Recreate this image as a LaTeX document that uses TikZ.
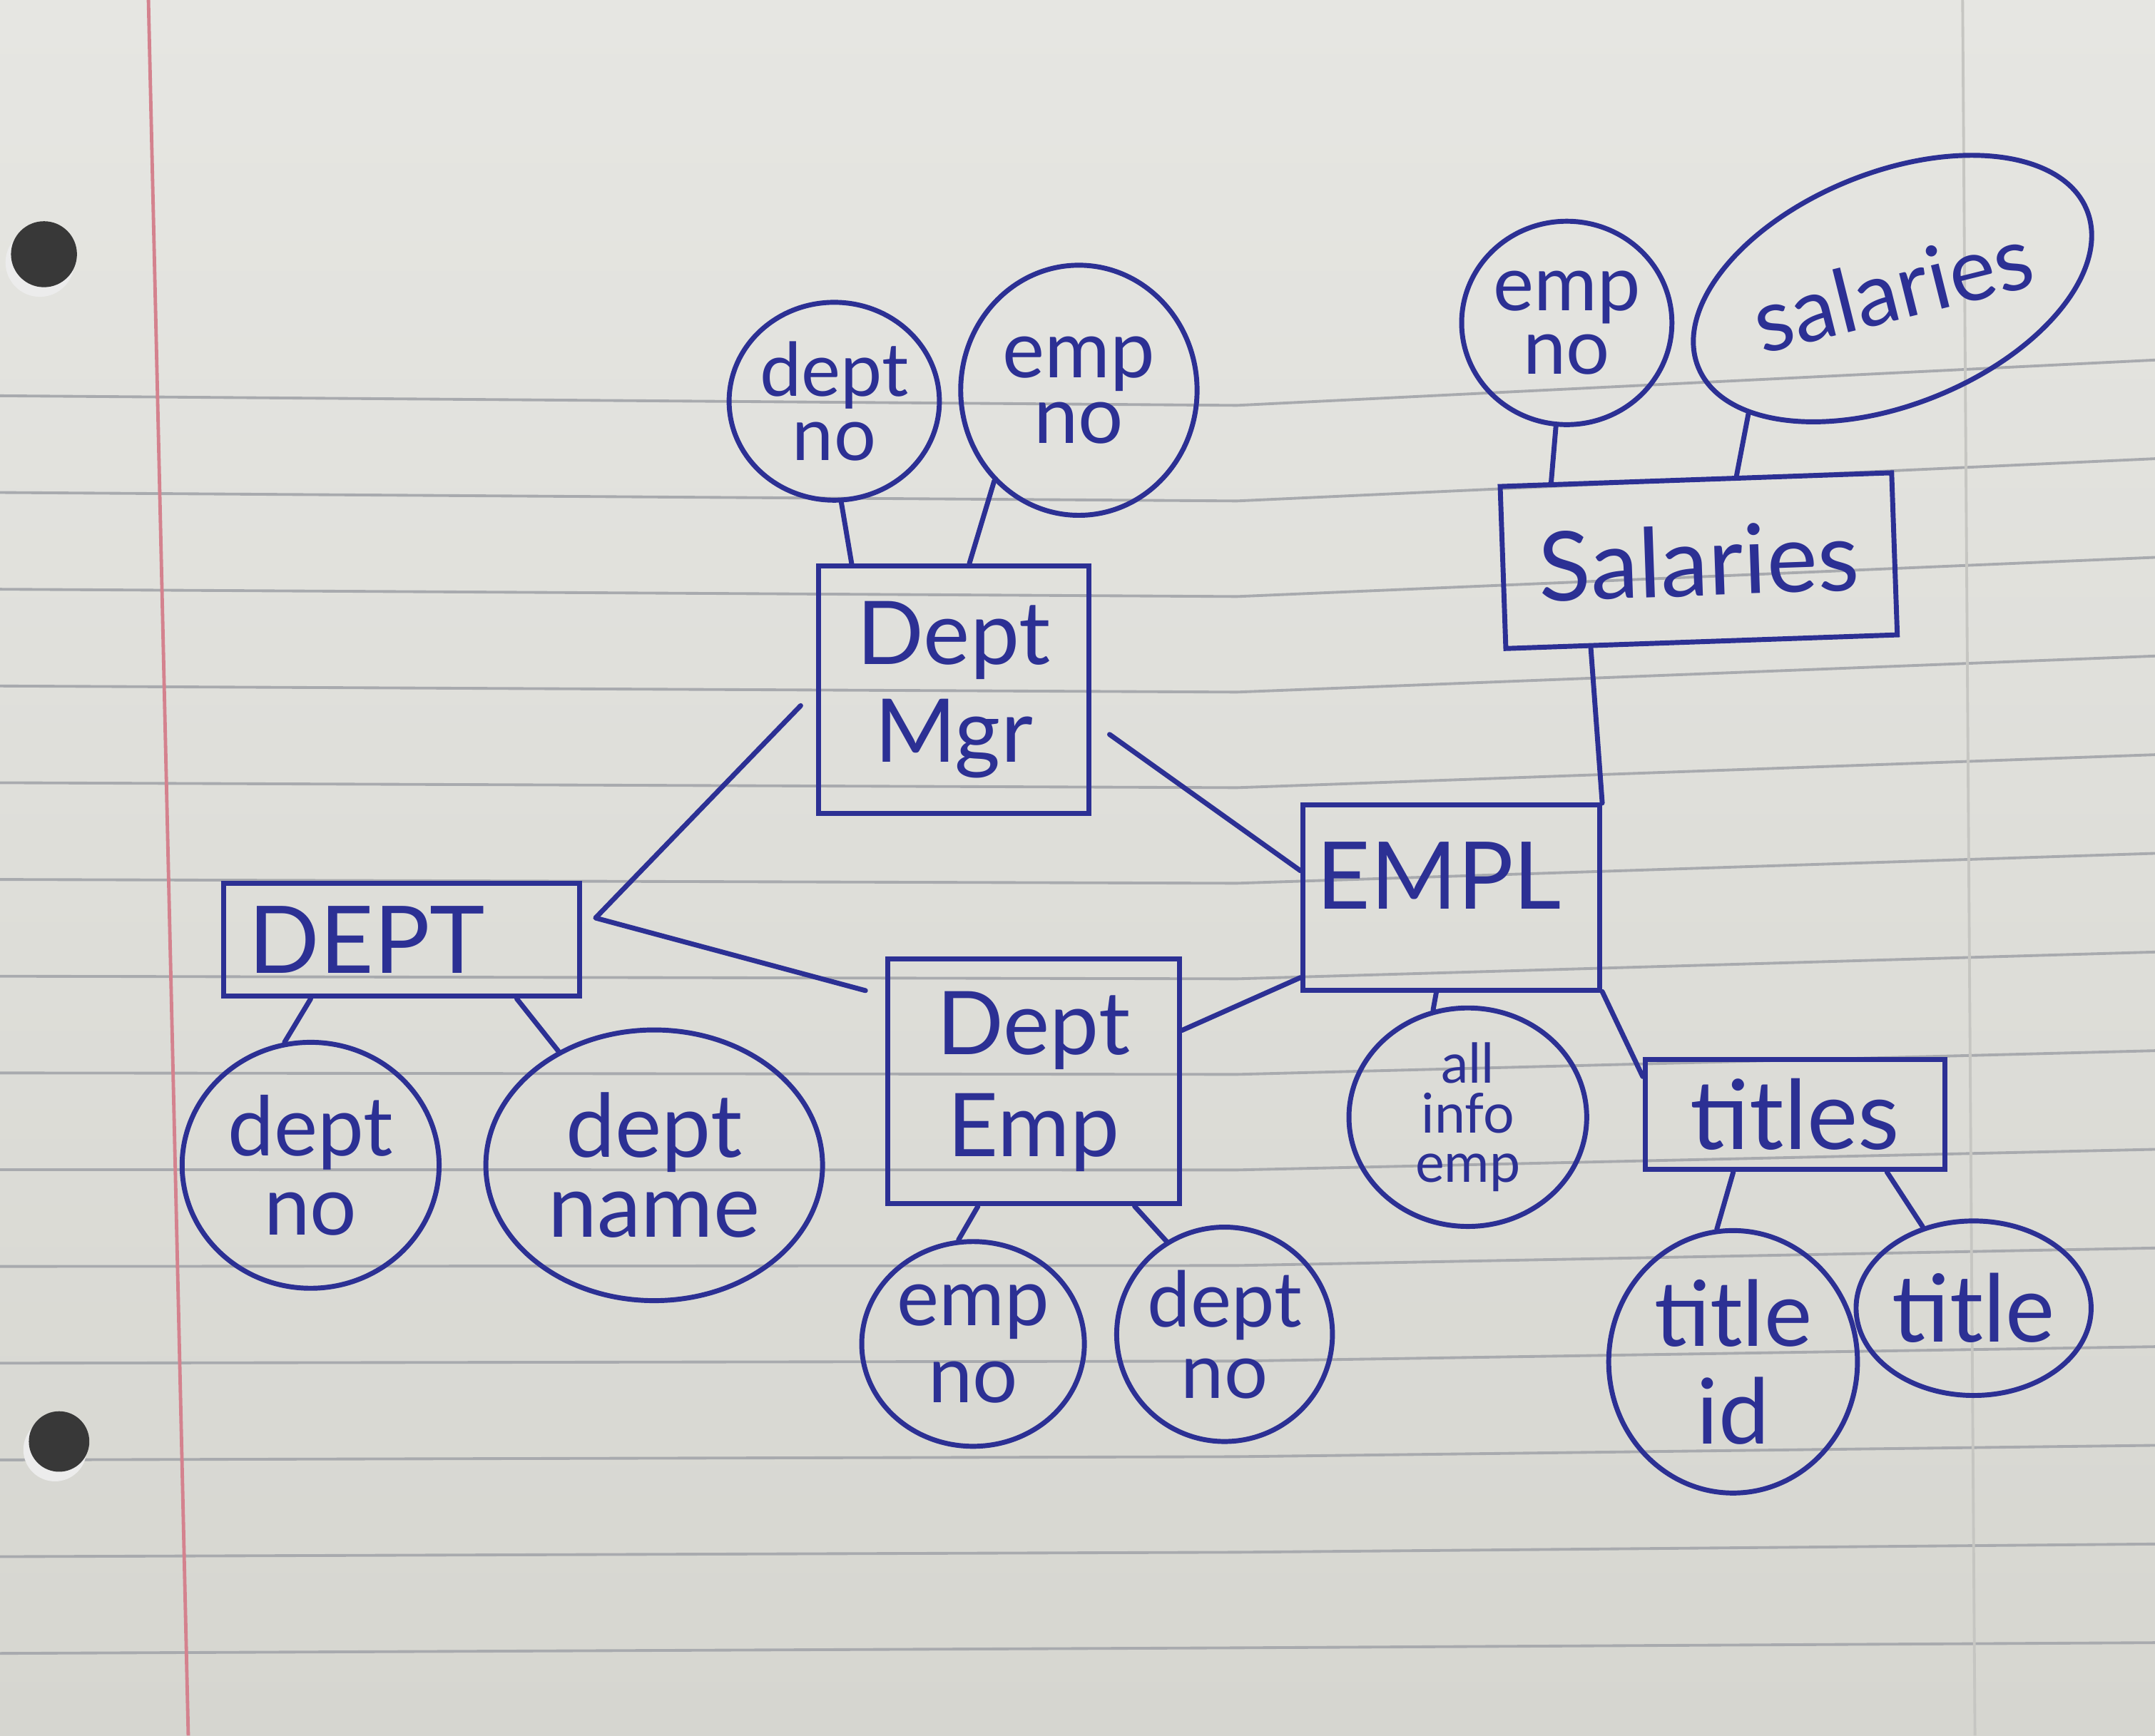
\documentclass[tikz,border=0pt]{standalone}
\usepackage{fontspec}
\setmainfont{Lato}
\usetikzlibrary{shapes.geometric,calc}
\definecolor{ink}{RGB}{44,48,148}
\definecolor{paperA}{RGB}{230,230,226}
\definecolor{paperB}{RGB}{214,214,208}
\definecolor{ruleC}{RGB}{168,170,174}
\definecolor{marginC}{RGB}{212,130,142}
\definecolor{faintC}{RGB}{198,198,194}
\newcommand{\hwfs}[2]{\fontsize{#1}{#2}\selectfont}
\tikzset{
  entity/.style={draw=ink, line width=3.6pt, rectangle, inner sep=0pt, text=ink, align=center},
  attr/.style={draw=ink, line width=3.6pt, ellipse, inner sep=-14pt, text=ink, align=center},
  link/.style={draw=ink, line width=3.6pt, line cap=round, line join=round},
  ruled/.style={draw=ruleC, line width=2pt},
}
\begin{document}
\begin{tikzpicture}[x=1pt,y=-1pt]
\useasboundingbox (0,0) rectangle (1568,1263);
% paper
\shade[top color=paperA, bottom color=paperB] (0,0) rectangle (1568,1263);
\foreach \k in {0,...,13}{
  \pgfmathsetmacro{\yy}{288+70.4*\k}
  \pgfmathsetmacro{\ym}{\yy+7-0.85*\k}
  \pgfmathsetmacro{\yr}{\yy-26+1.4*\k}
  \draw[ruled] (0,\yy) -- (900,\ym) -- (1568,\yr);
}
\draw[marginC, line width=2.5pt] (108,0) -- (137,1263);
\draw[faintC, line width=2pt] (1428,0) -- (1437,1263);
\fill[white!85!gray] (29,191) circle (25);
\fill[black!78] (32,185) circle (24);
\fill[white!85!gray] (40,1055) circle (23);
\fill[black!78] (43,1049) circle (22);

% entities
\node[entity, minimum width=197pt, minimum height=180pt, font=\hwfs{64}{71}] (mgr) at (694,502) {Dept\\Mgr};
\node[entity, minimum width=285pt, minimum height=118pt, rotate=2, font=\hwfs{70}{80}] (sal) at (1236,408) {Salaries};
\node[entity, minimum width=216pt, minimum height=135pt, font=\hwfs{68}{80}] (empl) at (1056,653) {\raisebox{32pt}{EMPL}\kern18pt};
\node[entity, minimum width=259pt, minimum height=82pt, font=\hwfs{68}{80}] (dept) at (292,684) {DEPT\kern50pt};
\node[entity, minimum width=212pt, minimum height=178pt, font=\hwfs{64}{74}] (demp) at (752,787) {Dept\\Emp};
\node[entity, minimum width=218pt, minimum height=80pt, font=\hwfs{70}{80}] (ttls) at (1306,811) {titles};

% attributes
\node[attr, minimum width=153pt, minimum height=144pt, font=\hwfs{54}{47}] (mdno) at (607,292) {dept\\no};
\node[attr, minimum width=172pt, minimum height=182pt, font=\hwfs{58}{48}] (memp) at (785,284) {emp\\no};
\node[attr, minimum width=153pt, minimum height=148pt, font=\hwfs{56}{46}] (semp) at (1140,235) {emp\\no};
\node[attr, minimum width=305pt, minimum height=169pt, rotate=22, font=\hwfs{64}{70}] (ssal) at (1377,210) {\makebox[0pt]{\rotatebox{-8}{salaries}}};
\node[attr, minimum width=187pt, minimum height=179pt, font=\hwfs{60}{58}] (dno) at (226,848) {dept\\no};
\node[attr, minimum width=245pt, minimum height=197pt, font=\hwfs{64}{58}] (dname) at (476,848) {dept\\name};
\node[attr, minimum width=162pt, minimum height=149pt, font=\hwfs{58}{56}] (eno) at (708,978) {emp\\no};
\node[attr, minimum width=157pt, minimum height=156pt, font=\hwfs{56}{52}] (dno2) at (891,971) {dept\\no};
\node[attr, minimum width=173pt, minimum height=159pt, font=\hwfs{40}{36}] (info) at (1068,813) {all\\info\\emp};
\node[attr, minimum width=181pt, minimum height=191pt, font=\hwfs{66}{71}] (tid) at (1261,991) {title\\id};
\node[attr, minimum width=171pt, minimum height=127pt, font=\hwfs{68}{70}] (ttl) at (1436,952) {title};

% connectors
\draw[link] (mdno.-86) -- (mgr.129);
\draw[link] (memp.227) -- (mgr.83);
\draw[link] (semp.264) -- (sal.150);
\draw[link] (ssal.199) -- (sal.64);
\draw[link] (sal.217) -- (empl.32);
\draw[link] (empl.261) -- (info.108);
\draw[link] (empl.328) -- (ttls.166);
\draw[link, shorten <=16pt] (mgr.-13) -- (empl.170);
\coordinate (dv) at ([xshift=10pt,yshift=16pt]dept.east);
\draw[link, shorten <=16pt, shorten >=15pt] (mgr.west) -- (dv) -- (demp.150);
\draw[link] (demp.19) -- (empl.208);
\draw[link] (dept.213) -- (dno.102);
\draw[link] (dept.333) -- (dname.130);
\draw[link] (demp.246) -- (eno.98);
\draw[link] (demp.309) -- (dno2.122);
\draw[link] (ttls.223) -- (tid.97);
\draw[link] (ttls.328) -- (ttl.122);
\end{tikzpicture}
\end{document}
